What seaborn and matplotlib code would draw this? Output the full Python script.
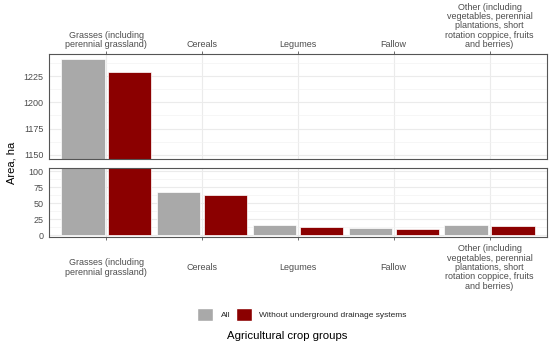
import pandas as pd
import matplotlib.pyplot as plt
import matplotlib.patches as mpatches
from matplotlib.ticker import MultipleLocator
import seaborn as sns

# data
groups = ['Grasses (including\nperennial grassland)', 'Cereals', 'Legumes', 'Fallow',
          'Other (including\nvegetables, perennial\nplantations, short\nrotation coppice, fruits\nand berries)']
area_all = [1241, 67, 15, 11, 15]
area_no_drain = [1229, 63, 13, 10, 14]
series = ['All', 'Without underground drainage systems']
colors = ['#A9A9A9', '#8B0000']

df = pd.DataFrame({
    'group': groups * 2,
    'area': area_all + area_no_drain,
    'type': [series[0]] * len(groups) + [series[1]] * len(groups),
})

sns.set_theme(style='white')
plt.rcParams['font.family'] = ['Liberation Sans', 'DejaVu Sans']

fig = plt.figure(figsize=(5.5, 3.52), dpi=100)
ax_top = fig.add_axes([0.089, 0.548, 0.9055, 0.2986])
ax_bot = fig.add_axes([0.089, 0.3267, 0.9055, 0.196])

for ax in (ax_top, ax_bot):
    sns.barplot(data=df, x='group', y='area', hue='type', order=groups, hue_order=series,
                palette=colors, saturation=1, width=0.98, gap=0.08, edgecolor='white',
                linewidth=0.5, legend=False, ax=ax)
    ax.set_xlim(-0.6, 4.6)
    ax.set_xlabel('')
    ax.set_ylabel('')
    ax.set_axisbelow(True)
    ax.grid(True, which='major', color='#EBEBEB', linewidth=0.8)
    ax.grid(True, which='minor', axis='y', color='#F2F2F2', linewidth=0.45)
    for s in ax.spines.values():
        s.set_color('#555555')
        s.set_linewidth(0.8)
    ax.tick_params(axis='both', which='major', length=2.5, width=0.6, color='#555555',
                   labelsize=6.5, labelcolor='#4D4D4D', pad=1.5)
    ax.tick_params(axis='y', which='minor', length=0)

# upper panel (broken axis)
ax_top.set_ylim(1146, 1246)
ax_top.yaxis.set_major_locator(MultipleLocator(25))
ax_top.yaxis.set_minor_locator(MultipleLocator(12.5))
ax_top.xaxis.tick_top()
ax_top.tick_params(axis='x', which='major', top=True, bottom=False, pad=1)
for lab in ax_top.get_xticklabels():
    lab.set_multialignment('center')
    lab.set_linespacing(1.05)

# lower panel
ax_bot.set_ylim(-3.1, 105)
ax_bot.yaxis.set_major_locator(MultipleLocator(25))
ax_bot.yaxis.set_minor_locator(MultipleLocator(12.5))
ax_bot.tick_params(axis='x', which='major', bottom=True, pad=19.5)
for lab in ax_bot.get_xticklabels():
    lab.set_va('center')
    lab.set_multialignment('center')
    lab.set_linespacing(1.05)

fig.text(0.02, 0.537, 'Area, ha', rotation=90, ha='center', va='center', fontsize=8, color='black')
fig.text(0.522, 0.045, 'Agricultural crop groups', ha='center', va='center', fontsize=8.2, color='black')

handles = [mpatches.Patch(facecolor=c, edgecolor='white', label=s) for c, s in zip(colors, series)]
fig.legend(handles=handles, loc='center', bbox_to_anchor=(0.549, 0.107), ncol=2, frameon=False,
           fontsize=6, handlelength=1.9, handleheight=1.9, handletextpad=0.9, columnspacing=0.7,
           borderaxespad=0)

plt.savefig('out.png', dpi=100)
